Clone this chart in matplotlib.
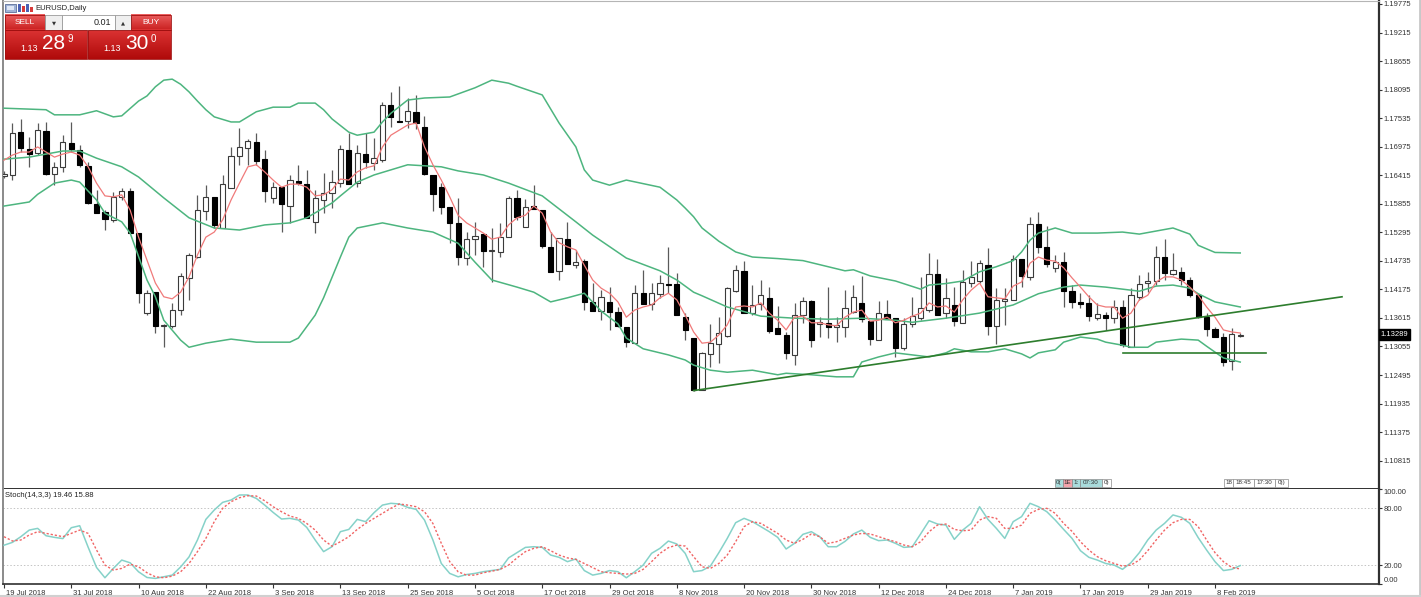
import numpy as np
import matplotlib
matplotlib.use('Agg')
import matplotlib.pyplot as plt
import matplotlib.transforms as mtransforms
from matplotlib.patches import Rectangle
from matplotlib.colors import LinearSegmentedColormap

plt.rcParams['font.family'] = ['Liberation Sans', 'DejaVu Sans']

# EURUSD daily, 19 Jul 2018 .. 13 Feb 2019 (bar index 0..147)
opens = [1.1640, 1.1642, 1.1726, 1.1693, 1.1685, 1.1728, 1.1644, 1.1658, 1.1705, 1.1691,
         1.1660, 1.1585, 1.1569, 1.1554, 1.1599, 1.1611, 1.1528, 1.1371, 1.1412, 1.1346,
         1.1346, 1.1377, 1.1440, 1.1481, 1.1571, 1.1599, 1.1538, 1.1617, 1.1679, 1.1695,
         1.1707, 1.1673, 1.1597, 1.1618, 1.1581, 1.1630, 1.1624, 1.1550, 1.1593, 1.1607,
         1.1626, 1.1691, 1.1626, 1.1683, 1.1666, 1.1671, 1.1779, 1.1748, 1.1748, 1.1766,
         1.1736, 1.1642, 1.1618, 1.1579, 1.1548, 1.1479, 1.1516, 1.1526, 1.1493, 1.1491,
         1.1520, 1.1597, 1.1540, 1.1581, 1.1573, 1.1501, 1.1454, 1.1516, 1.1465, 1.1473,
         1.1393, 1.1375, 1.1393, 1.1373, 1.1344, 1.1312, 1.1410, 1.1389, 1.1408, 1.1428,
         1.1428, 1.1363, 1.1322, 1.1220, 1.1291, 1.1310, 1.1326, 1.1414, 1.1454, 1.1371,
         1.1389, 1.1401, 1.1342, 1.1328, 1.1289, 1.1367, 1.1395, 1.1350, 1.1352, 1.1344,
         1.1344, 1.1373, 1.1391, 1.1356, 1.1318, 1.1369, 1.1361, 1.1303, 1.1350, 1.1361,
         1.1377, 1.1448, 1.1371, 1.1387, 1.1352, 1.1430, 1.1434, 1.1465, 1.1346, 1.1395,
         1.1397, 1.1477, 1.1442, 1.1546, 1.1501, 1.1460, 1.1471, 1.1414, 1.1393, 1.1391,
         1.1361, 1.1367, 1.1361, 1.1383, 1.1305, 1.1403, 1.1430, 1.1434, 1.1481, 1.1448,
         1.1452, 1.1436, 1.1407, 1.1363, 1.1340, 1.1324, 1.1277, 1.1326]
highs = [1.1650, 1.1744, 1.1752, 1.1717, 1.1744, 1.1746, 1.1668, 1.1720, 1.1746, 1.1701,
         1.1668, 1.1613, 1.1573, 1.1609, 1.1617, 1.1617, 1.1528, 1.1416, 1.1412, 1.1350,
         1.1391, 1.1450, 1.1489, 1.1603, 1.1622, 1.1599, 1.1642, 1.1697, 1.1734, 1.1713,
         1.1724, 1.1691, 1.1628, 1.1618, 1.1642, 1.1662, 1.1652, 1.1613, 1.1646, 1.1652,
         1.1701, 1.1724, 1.1701, 1.1724, 1.1715, 1.1785, 1.1805, 1.1817, 1.1793, 1.1799,
         1.1758, 1.1642, 1.1626, 1.1579, 1.1597, 1.1530, 1.1550, 1.1526, 1.1538, 1.1548,
         1.1601, 1.1613, 1.1595, 1.1622, 1.1573, 1.1530, 1.1518, 1.1550, 1.1495, 1.1477,
         1.1430, 1.1416, 1.1422, 1.1383, 1.1344, 1.1426, 1.1456, 1.1430, 1.1446, 1.1501,
         1.1450, 1.1371, 1.1322, 1.1295, 1.1350, 1.1363, 1.1422, 1.1465, 1.1473, 1.1426,
         1.1436, 1.1422, 1.1385, 1.1334, 1.1391, 1.1403, 1.1397, 1.1363, 1.1422, 1.1363,
         1.1416, 1.1426, 1.1444, 1.1356, 1.1395, 1.1397, 1.1361, 1.1361, 1.1403, 1.1442,
         1.1489, 1.1477, 1.1440, 1.1422, 1.1456, 1.1473, 1.1475, 1.1499, 1.1420, 1.1420,
         1.1485, 1.1477, 1.1560, 1.1569, 1.1542, 1.1485, 1.1491, 1.1426, 1.1410, 1.1407,
         1.1391, 1.1373, 1.1397, 1.1397, 1.1420, 1.1446, 1.1452, 1.1503, 1.1516, 1.1489,
         1.1462, 1.1442, 1.1410, 1.1371, 1.1344, 1.1332, 1.1342, 1.1332]
lows = [1.1636, 1.1632, 1.1687, 1.1658, 1.1681, 1.1642, 1.1622, 1.1648, 1.1687, 1.1658,
        1.1585, 1.1567, 1.1534, 1.1550, 1.1593, 1.1528, 1.1391, 1.1367, 1.1332, 1.1305,
        1.1342, 1.1367, 1.1397, 1.1479, 1.1554, 1.1538, 1.1538, 1.1617, 1.1662, 1.1662,
        1.1662, 1.1589, 1.1587, 1.1530, 1.1548, 1.1622, 1.1558, 1.1528, 1.1567, 1.1577,
        1.1618, 1.1624, 1.1618, 1.1656, 1.1652, 1.1668, 1.1736, 1.1746, 1.1734, 1.1732,
        1.1642, 1.1571, 1.1565, 1.1509, 1.1465, 1.1465, 1.1485, 1.1462, 1.1432, 1.1481,
        1.1520, 1.1554, 1.1540, 1.1575, 1.1499, 1.1452, 1.1436, 1.1467, 1.1460, 1.1377,
        1.1375, 1.1357, 1.1338, 1.1344, 1.1305, 1.1312, 1.1389, 1.1377, 1.1401, 1.1410,
        1.1367, 1.1318, 1.1218, 1.1220, 1.1265, 1.1273, 1.1324, 1.1412, 1.1371, 1.1367,
        1.1377, 1.1332, 1.1330, 1.1281, 1.1269, 1.1352, 1.1305, 1.1324, 1.1322, 1.1314,
        1.1324, 1.1371, 1.1354, 1.1308, 1.1318, 1.1359, 1.1285, 1.1299, 1.1344, 1.1357,
        1.1373, 1.1367, 1.1361, 1.1346, 1.1352, 1.1422, 1.1430, 1.1328, 1.1310, 1.1348,
        1.1397, 1.1422, 1.1436, 1.1489, 1.1462, 1.1452, 1.1383, 1.1381, 1.1381, 1.1356,
        1.1357, 1.1338, 1.1352, 1.1305, 1.1305, 1.1397, 1.1412, 1.1426, 1.1436, 1.1446,
        1.1426, 1.1403, 1.1361, 1.1326, 1.1324, 1.1267, 1.1259, 1.1324]
closes = [1.1644, 1.1724, 1.1695, 1.1683, 1.1730, 1.1644, 1.1658, 1.1707, 1.1693, 1.1662,
          1.1587, 1.1567, 1.1556, 1.1599, 1.1611, 1.1528, 1.1410, 1.1410, 1.1346, 1.1348,
          1.1377, 1.1444, 1.1485, 1.1573, 1.1599, 1.1544, 1.1624, 1.1679, 1.1697, 1.1709,
          1.1669, 1.1611, 1.1618, 1.1585, 1.1632, 1.1626, 1.1558, 1.1597, 1.1607, 1.1628,
          1.1693, 1.1624, 1.1685, 1.1668, 1.1675, 1.1779, 1.1756, 1.1746, 1.1768, 1.1744,
          1.1644, 1.1605, 1.1579, 1.1548, 1.1481, 1.1516, 1.1522, 1.1493, 1.1495, 1.1520,
          1.1597, 1.1560, 1.1579, 1.1575, 1.1503, 1.1452, 1.1518, 1.1467, 1.1471, 1.1393,
          1.1375, 1.1403, 1.1373, 1.1346, 1.1314, 1.1410, 1.1389, 1.1410, 1.1430, 1.1426,
          1.1367, 1.1338, 1.1220, 1.1293, 1.1312, 1.1332, 1.1420, 1.1456, 1.1371, 1.1387,
          1.1407, 1.1336, 1.1330, 1.1293, 1.1367, 1.1395, 1.1318, 1.1354, 1.1344, 1.1348,
          1.1381, 1.1403, 1.1359, 1.1320, 1.1371, 1.1359, 1.1303, 1.1350, 1.1365, 1.1381,
          1.1448, 1.1367, 1.1401, 1.1356, 1.1432, 1.1442, 1.1469, 1.1346, 1.1397, 1.1399,
          1.1477, 1.1444, 1.1546, 1.1501, 1.1467, 1.1471, 1.1414, 1.1393, 1.1389, 1.1365,
          1.1369, 1.1361, 1.1383, 1.1308, 1.1407, 1.1428, 1.1434, 1.1481, 1.1450, 1.1456,
          1.1436, 1.1407, 1.1363, 1.1340, 1.1324, 1.1275, 1.1330, 1.1329]

# short moving average (red)
ma_line = [1.1671, 1.1681, 1.1687, 1.1687, 1.1697, 1.1687, 1.1677, 1.1683, 1.1687, 1.1681,
           1.1658, 1.1626, 1.1601, 1.1599, 1.1603, 1.1573, 1.1520, 1.1475, 1.1430, 1.1403,
           1.1399, 1.1412, 1.1442, 1.1485, 1.1520, 1.1530, 1.1554, 1.1593, 1.1626, 1.1658,
           1.1662, 1.1648, 1.1632, 1.1618, 1.1624, 1.1624, 1.1618, 1.1601, 1.1603, 1.1613,
           1.1634, 1.1632, 1.1648, 1.1656, 1.1660, 1.1697, 1.1720, 1.1730, 1.1740, 1.1744,
           1.1697, 1.1662, 1.1632, 1.1599, 1.1563, 1.1548, 1.1538, 1.1528, 1.1516, 1.1520,
           1.1544, 1.1558, 1.1563, 1.1581, 1.1567, 1.1530, 1.1509, 1.1501, 1.1495, 1.1465,
           1.1436, 1.1420, 1.1410, 1.1393, 1.1363, 1.1377, 1.1383, 1.1387, 1.1401, 1.1410,
           1.1397, 1.1367, 1.1334, 1.1312, 1.1314, 1.1328, 1.1348, 1.1383, 1.1385, 1.1383,
           1.1391, 1.1371, 1.1357, 1.1338, 1.1363, 1.1365, 1.1352, 1.1352, 1.1348, 1.1346,
           1.1363, 1.1373, 1.1377, 1.1355, 1.1357, 1.1363, 1.1352, 1.1357, 1.1365, 1.1371,
           1.1391, 1.1383, 1.1385, 1.1373, 1.1397, 1.1416, 1.1430, 1.1403, 1.1401, 1.1399,
           1.1424, 1.1432, 1.1469, 1.1481, 1.1475, 1.1473, 1.1460, 1.1440, 1.1422, 1.1403,
           1.1387, 1.1383, 1.1383, 1.1361, 1.1371, 1.1397, 1.1406, 1.1432, 1.1442, 1.1442,
           1.1436, 1.1422, 1.1406, 1.1383, 1.1363, 1.1338, 1.1334, 1.1332]

# Bollinger bands read at selected bars
upper_idx = [0, 5, 6, 9, 11, 13, 14, 16, 17, 18, 19, 20, 21, 22, 23, 24, 25, 27, 28, 29,
             30, 32, 34, 35, 37, 38, 39, 41, 42, 44, 45, 46, 48, 50, 53, 56, 58, 60, 61, 64,
             66, 68, 69, 70, 72, 74, 78, 80, 81, 82, 83, 85, 87, 89, 92, 95, 98, 100, 101, 103,
             106, 109, 110, 112, 114, 116, 118, 120, 121, 122, 123, 125, 127, 130, 133, 135, 137, 139, 141, 142,
             144, 147]
upper_val = [1.1773, 1.1770, 1.1760, 1.1760, 1.1768, 1.1756, 1.1758, 1.1787, 1.1797, 1.1815,
             1.1828, 1.1830, 1.1820, 1.1805, 1.1787, 1.1770, 1.1756, 1.1746, 1.1746, 1.1756,
             1.1766, 1.1775, 1.1775, 1.1783, 1.1783, 1.1770, 1.1752, 1.1726, 1.1720, 1.1726,
             1.1746, 1.1763, 1.1789, 1.1793, 1.1795, 1.1813, 1.1828, 1.1822, 1.1816, 1.1799,
             1.1744, 1.1697, 1.1652, 1.1632, 1.1622, 1.1632, 1.1618, 1.1593, 1.1577, 1.1560,
             1.1538, 1.1512, 1.1491, 1.1481, 1.1478, 1.1474, 1.1462, 1.1454, 1.1456, 1.1444,
             1.1434, 1.1418, 1.1426, 1.1429, 1.1434, 1.1452, 1.1462, 1.1474, 1.1491, 1.1514,
             1.1528, 1.1538, 1.1528, 1.1528, 1.1530, 1.1526, 1.1532, 1.1538, 1.1526, 1.1504,
             1.1490, 1.1489]
mid_idx = [0, 3, 7, 9, 11, 14, 16, 19, 22, 25, 28, 31, 34, 36, 39, 40, 42, 44, 48, 52,
           54, 57, 60, 64, 68, 70, 74, 78, 80, 82, 83, 86, 90, 94, 98, 102, 106, 108, 112, 116,
           120, 123, 126, 128, 131, 133, 135, 137, 139, 141, 142, 144, 147]
mid_val = [1.1673, 1.1677, 1.1689, 1.1689, 1.1675, 1.1658, 1.1638, 1.1597, 1.1558, 1.1538,
           1.1534, 1.1544, 1.1548, 1.1558, 1.1587, 1.1601, 1.1628, 1.1642, 1.1662, 1.1658,
           1.1650, 1.1642, 1.1626, 1.1601, 1.1550, 1.1524, 1.1479, 1.1454, 1.1436, 1.1412,
           1.1405, 1.1383, 1.1365, 1.1361, 1.1359, 1.1361, 1.1357, 1.1353, 1.1361, 1.1371,
           1.1387, 1.1409, 1.1422, 1.1426, 1.1422, 1.1418, 1.1414, 1.1424, 1.1426, 1.1420,
           1.1409, 1.1393, 1.1383]
lower_idx = [0, 3, 4, 6, 8, 9, 11, 12, 14, 15, 17, 18, 19, 21, 22, 24, 27, 30, 34, 35,
             37, 38, 40, 41, 42, 45, 48, 51, 54, 56, 58, 61, 63, 65, 67, 69, 71, 73, 74, 76,
             79, 81, 82, 84, 86, 89, 92, 93, 96, 99, 101, 102, 104, 106, 108, 110, 112, 113, 115, 117,
             119, 121, 122, 123, 125, 126, 128, 130, 131, 133, 134, 136, 137, 140, 142, 143, 145, 147]
lower_val = [1.1581, 1.1589, 1.1604, 1.1626, 1.1632, 1.1628, 1.1593, 1.1567, 1.1550, 1.1528,
             1.1436, 1.1403, 1.1357, 1.1318, 1.1304, 1.1312, 1.1320, 1.1314, 1.1314, 1.1322,
             1.1367, 1.1401, 1.1481, 1.1520, 1.1538, 1.1548, 1.1538, 1.1530, 1.1508, 1.1471,
             1.1436, 1.1422, 1.1412, 1.1393, 1.1401, 1.1410, 1.1375, 1.1350, 1.1322, 1.1301,
             1.1289, 1.1279, 1.1269, 1.1259, 1.1255, 1.1259, 1.1250, 1.1253, 1.1250, 1.1246,
             1.1246, 1.1275, 1.1285, 1.1293, 1.1289, 1.1285, 1.1293, 1.1301, 1.1295, 1.1295,
             1.1301, 1.1291, 1.1283, 1.1293, 1.1299, 1.1314, 1.1324, 1.1320, 1.1314, 1.1308,
             1.1304, 1.1304, 1.1314, 1.1320, 1.1318, 1.1306, 1.1283, 1.1275]

# Stochastic(14,3,3)
stoch_k = [41, 44, 50, 57, 58.8, 51, 49.3, 48, 59.5, 61.6,
           39, 17.5, 6.6, 16.5, 25.3, 22.4, 12.9, 6.9, 5.9, 7.6,
           9.4, 18, 28.6, 46.5, 68.3, 78.2, 86.3, 88.8, 94.1, 94.1,
           90.5, 83.4, 75.7, 68.7, 69.4, 67.6, 59.8, 46.5, 34.2, 39.4,
           55.3, 57.7, 68.3, 65.9, 75.4, 83.4, 85.3, 84.6, 81.0, 78.9,
           67.6, 46.5, 21.7, 11.2, 7.6, 10, 11.2, 13, 14.2, 15.5,
           27.6, 33.1, 38.7, 39.4, 38.7, 30.6, 28.2, 23.6, 26.5, 14.2,
           9.4, 11.2, 14.2, 13, 6.6, 13, 20, 32.4, 37.7, 45.4,
           42.3, 32.4, 13, 14.2, 19, 33.1, 48.2, 64.8, 69.4, 65.9,
           60.6, 55.3, 49.3, 37, 43, 52.5, 55.3, 50, 39.4, 39.4,
           45, 52.9, 57, 49.3, 45.8, 46.5, 43, 38.7, 39.4, 53,
           66.9, 63.4, 62.3, 47.2, 57, 64.1, 81.7, 68.3, 58.8, 48.2,
           65.9, 71.2, 85.3, 81.7, 76.4, 67.6, 57.7, 48.2, 35.2, 28.2,
           25.3, 21.7, 20, 15.5, 22.5, 33.1, 46.5, 57, 64.1, 73,
           70.5, 64.1, 49, 35.9, 23.6, 14.2, 15.5, 19.46]
stoch_d = [50, 45.5, 46.5, 51.8, 55.3, 53.5, 51.8, 50, 53.5, 57,
           53.5, 36, 20, 14.7, 16.5, 21, 18.2, 11.9, 7.6, 6.6,
           8.3, 12.9, 21.7, 34.2, 48.2, 65.9, 80, 87, 91.2, 93.3,
           93, 88, 81.7, 76.4, 71.8, 69.4, 64, 57, 46.5, 40,
           44.7, 50, 57.7, 64, 69.4, 74.7, 80, 84.6, 83.4, 81.7,
           76.4, 64, 43, 23.6, 12.9, 9.4, 9.4, 11.9, 13.5, 15.5,
           20, 27.6, 34.2, 37.7, 39.4, 35.2, 30.6, 27.6, 26, 21.7,
           17.5, 13, 11.9, 11.2, 10.5, 11.2, 15.5, 23.6, 32.4, 38.4,
           41.2, 40.1, 28.9, 18.2, 16.5, 21.7, 30.6, 44.7, 60.6, 65.9,
           64.1, 58.8, 53.5, 46.5, 43, 47.2, 52.9, 50, 43, 44.7,
           48.2, 51.8, 53.5, 52.9, 50, 47.2, 44.7, 41.2, 39.4, 44.7,
           55.3, 62.3, 63.4, 57.7, 56.3, 57, 67.6, 71.2, 69.4, 58.8,
           58.8, 62.3, 74.7, 78.9, 80, 74.7, 64.1, 55.6, 44.7, 35.9,
           28.9, 24.6, 21.7, 18.9, 20, 25.3, 35.2, 46.5, 57, 64.8,
           68.3, 68.3, 60.6, 46.5, 33.1, 23.6, 17.5, 15.88]

# drawn objects
trend_bars = [82, 159.1]
trend_prices = [1.1219, 1.1403]
hline_bars = [133, 150.1]
hline_price = 1.1292
last_price = 1.13289

date_bars = [0, 8, 16, 24, 32, 40, 48, 56, 64, 72, 80, 88, 96, 104, 112, 120, 128, 136, 144]
date_labels = ['19 Jul 2018', '31 Jul 2018', '10 Aug 2018', '22 Aug 2018', '3 Sep 2018',
               '13 Sep 2018', '25 Sep 2018', '5 Oct 2018', '17 Oct 2018', '29 Oct 2018',
               '8 Nov 2018', '20 Nov 2018', '30 Nov 2018', '12 Dec 2018', '24 Dec 2018',
               '7 Jan 2019', '17 Jan 2019', '29 Jan 2019', '8 Feb 2019']
price_ticks = [1.19775, 1.19215, 1.18655, 1.18095, 1.17535, 1.16975, 1.16415, 1.15855,
               1.15295, 1.14735, 1.14175, 1.13615, 1.13055, 1.12495, 1.11935, 1.11375, 1.10815]
stoch_ticks = [0, 20, 80, 100]

W, H = 1421, 597
fig = plt.figure(figsize=(W / 100, H / 100), dpi=100)
fig.patch.set_facecolor('white')


def px_axes(x0, y0, x1, y1):
    return fig.add_axes([x0 / W, 1 - y1 / H, (x1 - x0) / W, (y1 - y0) / H])


ax = px_axes(3, 1, 1378.5, 488.5)
ax2 = px_axes(3, 489.4, 1378.5, 584)
xmin, xmax = -0.12, 163.44

# ---- price panel
x = np.arange(len(closes))
o = np.array(opens)
c = np.array(closes)
hi = np.array(highs)
lo = np.array(lows)
up = c >= o
ax.vlines(x, lo, hi, color='#5a5a5a', lw=0.9, zorder=2)
blo = np.minimum(o, c)
bh = np.abs(c - o)
ax.bar(x[up], bh[up], bottom=blo[up], width=0.62, color='white', edgecolor='#3a3a3a', lw=0.8, zorder=3)
ax.bar(x[~up], bh[~up], bottom=blo[~up], width=0.62, color='black', edgecolor='black', lw=0.8, zorder=3)

band_col = '#4db57f'
ax.plot(upper_idx, upper_val, color=band_col, lw=1.1, zorder=4)
ax.plot(mid_idx, mid_val, color=band_col, lw=1.1, zorder=4)
ax.plot(lower_idx, lower_val, color=band_col, lw=1.1, zorder=4)
ax.plot(x, ma_line, color='#f07a7a', lw=0.9, zorder=5)

ax.plot(trend_bars, trend_prices, color='#2d7d2d', lw=1.2, zorder=6)
ax.plot(hline_bars, [hline_price, hline_price], color='#2d7d2d', lw=1.2, zorder=6)

ax.set_xlim(xmin, xmax)
ax.set_ylim(1.10269, 1.19833)
ax.set_xticks([])
ax.yaxis.tick_right()
ax.set_yticks(price_ticks)
ax.set_yticklabels([f'{v:.5f}' for v in price_ticks])
ax.tick_params(axis='y', labelsize=5.5, length=2, pad=1.5, colors='#333333', width=0.8)

# current price marker
ax.text(1.0015, last_price, f'{last_price:.5f}', transform=mtransforms.blended_transform_factory(ax.transAxes, ax.transData),
        ha='left', va='center', fontsize=5.5, color='white',
        bbox=dict(facecolor='black', edgecolor='black', pad=1.2), zorder=10, clip_on=False)

for sp in ['left']:
    ax.spines[sp].set_color('#8a8a8a')
    ax.spines[sp].set_linewidth(1.4)
ax.spines['top'].set_color('#b5b5b5')
ax.spines['top'].set_linewidth(0.8)
ax.spines['right'].set_color('#303030')
ax.spines['right'].set_linewidth(1.6)
ax.spines['bottom'].set_color('#303030')
ax.spines['bottom'].set_linewidth(1.4)

# ---- stochastic panel
ax2.axhline(80, color='#c4c4c4', lw=0.7, ls=(0, (1.5, 2)), zorder=1)
ax2.axhline(20, color='#c4c4c4', lw=0.7, ls=(0, (1.5, 2)), zorder=1)
ax2.plot(x, stoch_k, color='#86d2c9', lw=1.1, zorder=3)
ax2.plot(x, stoch_d, color='#f06464', lw=1.0, ls=(0, (1.6, 1.4)), zorder=4)
ax2.set_xlim(xmin, xmax)
ax2.set_ylim(0, 100)
ax2.yaxis.tick_right()
ax2.set_yticks(stoch_ticks)
ax2.set_yticklabels([f'{v:.2f}' for v in stoch_ticks])
ax2.tick_params(axis='y', labelsize=5.5, length=2, pad=1.5, colors='#333333', width=0.8)
ylab = ax2.get_yticklabels()
ylab[0].set_va('bottom')
ylab[-1].set_va('top')

ax2.set_xticks(date_bars)
ax2.set_xticklabels(date_labels, ha='left')
ax2.tick_params(axis='x', labelsize=5.5, length=3, pad=1.0, colors='#333333', width=0.8)
shift = mtransforms.ScaledTranslation(0.02, 0, fig.dpi_scale_trans)
for lab in ax2.get_xticklabels():
    lab.set_transform(lab.get_transform() + shift)

ax2.text(0.0015, 0.94, 'Stoch(14,3,3) 19.46 15.88', transform=ax2.transAxes,
         ha='left', va='center', fontsize=5.5, color='#222222')

ax2.spines['top'].set_visible(False)
ax2.spines['left'].set_color('#8a8a8a')
ax2.spines['left'].set_linewidth(1.4)
ax2.spines['right'].set_color('#303030')
ax2.spines['right'].set_linewidth(1.6)
ax2.spines['bottom'].set_color('#303030')
ax2.spines['bottom'].set_linewidth(1.2)

# ---- overlay: one-click trading panel, header, object labels
ov = fig.add_axes([0, 0, 1, 1])
ov.set_zorder(20)
ov.patch.set_alpha(0)
ov.axis('off')


def grad_box(x0, y0, x1, y1, c_top, c_bot, edge='#a01010'):
    cmap = LinearSegmentedColormap.from_list('g', [c_top, c_bot])
    ov.imshow(np.linspace(0, 1, 60)[:, None], cmap=cmap, aspect='auto',
              extent=[x0, x1, y1, y0], zorder=1, interpolation='bilinear')
    ov.add_patch(Rectangle((x0, y0), x1 - x0, y1 - y0, fill=False, ec=edge, lw=0.6, zorder=2))


# header
ov.add_patch(Rectangle((5, 3.5), 11, 8.5, fc='#9fb3d6', ec='#5d6f99', lw=0.6, zorder=2))
ov.add_patch(Rectangle((7, 6), 7, 4, fc='#dfe7f5', ec='none', zorder=3))
ov.add_patch(Rectangle((18, 4), 3, 8, fc='#4a62b5', ec='none', zorder=2))
ov.add_patch(Rectangle((22, 6), 3, 6, fc='#d83a3a', ec='none', zorder=2))
ov.add_patch(Rectangle((26, 3.5), 3, 8.5, fc='#4a62b5', ec='none', zorder=2))
ov.add_patch(Rectangle((30, 7), 2.5, 5, fc='#d83a3a', ec='none', zorder=2))
ov.text(35, 8, 'EURUSD,Daily', fontsize=5.5, color='#222222', ha='left', va='center', zorder=3)

# buttons row
grad_box(5, 15, 45, 29.5, '#ec6060', '#cc2424')
ov.add_patch(Rectangle((45, 15), 17, 14.5, fc='#efefef', ec='#9a9a9a', lw=0.6, zorder=2))
ov.add_patch(Rectangle((62, 15), 53, 14.5, fc='white', ec='#9a9a9a', lw=0.6, zorder=2))
ov.add_patch(Rectangle((115, 15), 16, 14.5, fc='#efefef', ec='#9a9a9a', lw=0.6, zorder=2))
grad_box(131, 15, 171, 29.5, '#ec6060', '#cc2424')
ov.text(25, 22.5, 'SELL', fontsize=6, color='white', ha='center', va='center', zorder=3)
ov.text(53.5, 22.5, '▼', fontsize=3.8, color='#333333', ha='center', va='center', zorder=3,
        family=['DejaVu Sans'])
ov.text(111, 22.5, '0.01', fontsize=6.5, color='#222222', ha='right', va='center', zorder=3)
ov.text(123, 22.5, '▲', fontsize=3.8, color='#333333', ha='center', va='center', zorder=3,
        family=['DejaVu Sans'])
ov.text(151, 22.5, 'BUY', fontsize=6, color='white', ha='center', va='center', zorder=3)

# price boxes
grad_box(5, 29.5, 87, 59, '#dc3434', '#b00a0a')
grad_box(88, 29.5, 171, 59, '#dc3434', '#b00a0a')
ov.text(20, 48.5, '1.13', fontsize=6.5, color='white', ha='left', va='center', zorder=3)
ov.text(42, 43.5, '28', fontsize=15, color='white', ha='left', va='center', zorder=3)
ov.text(68, 38.5, '9', fontsize=7, color='white', ha='left', va='center', zorder=3)
ov.text(103, 48.5, '1.13', fontsize=6.5, color='white', ha='left', va='center', zorder=3)
ov.text(125, 43.5, '30', fontsize=15, color='white', ha='left', va='center', zorder=3)
ov.text(151, 38.5, '0', fontsize=7, color='white', ha='left', va='center', zorder=3)

# object time labels at the bottom of the price panel
obj_boxes = [(1055, 1063, '0(', '#a9dcdc'), (1063, 1072, '1E', '#f3a3ab'), (1072, 1080, '1:', '#a9dcdc'),
             (1080, 1102, '07:30', '#a9dcdc'), (1102, 1111, '0)', 'white'),
             (1224, 1233, '18', 'white'), (1233, 1254, '18:45', 'white'), (1254, 1275, '17:30', 'white'),
             (1275, 1288, '0))', 'white')]
for bx0, bx1, txt, fc in obj_boxes:
    ov.add_patch(Rectangle((bx0, 478.5), bx1 - bx0, 8.5, fc=fc, ec='#8a8a8a', lw=0.5, zorder=2))
    ov.text((bx0 + bx1) / 2, 482.8, txt, fontsize=4.5, color='#333333', ha='center', va='center', zorder=3)

# window frame
ov.plot([1419.5, 1419.5], [0, 597], color='#c8c8c8', lw=2)
ov.plot([0, 1421], [595.8, 595.8], color='#d0d0d0', lw=1.5)

ov.set_xlim(0, W)
ov.set_ylim(H, 0)

fig.savefig('out.png', dpi=100, facecolor='white')
